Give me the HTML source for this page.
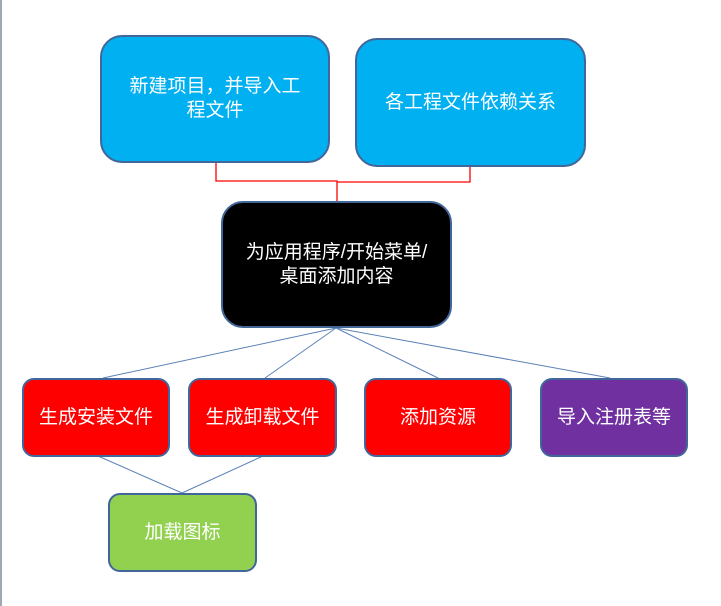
<!DOCTYPE html>
<html><head><meta charset="utf-8"><style>
body{margin:0;width:721px;height:606px;background:#fff;position:relative;overflow:hidden;font-family:"Liberation Sans","Noto Sans CJK SC",sans-serif}
.b{position:absolute;box-sizing:border-box;border:2px solid #41669a;color:#fff;display:flex;align-items:center;justify-content:center;text-align:center;font-size:19px;line-height:24px}
</style></head><body>
<div style="position:absolute;left:0;top:0;width:2px;height:606px;background:#a0a8b4"></div>
<svg width="721" height="606" style="position:absolute;left:0;top:0">
<polyline points="216,162 216,181 337,181 337,201" fill="none" stroke="#f00" stroke-width="1.3"/>
<polyline points="337,182 470,182 470,166" fill="none" stroke="#f00" stroke-width="1.3"/>
<g stroke="#5b82b8" stroke-width="1">
<line x1="336" y1="328" x2="103" y2="378"/>
<line x1="336" y1="328" x2="265" y2="378"/>
<line x1="336" y1="328" x2="438" y2="378"/>
<line x1="336" y1="328" x2="610" y2="378"/>
<line x1="98" y1="456" x2="182" y2="493"/>
<line x1="263" y1="456" x2="182" y2="493"/>
</g></svg>
<div class="b" style="left:100px;top:35px;width:230px;height:128px;border-radius:22px;background:#00b0f0;padding:0 26px">新建项目，并导入工程文件</div>
<div class="b" style="left:355px;top:38px;width:231px;height:129px;border-radius:22px;background:#00b0f0">各工程文件依赖关系</div>
<div class="b" style="left:221px;top:201px;width:231px;height:127px;border-radius:22px;background:#000;padding:0 14px">为应用程序/开始菜单/桌面添加内容</div>
<div class="b" style="left:22px;top:378px;width:148px;height:79px;border-radius:12px;background:#f00">生成安装文件</div>
<div class="b" style="left:188px;top:378px;width:149px;height:79px;border-radius:12px;background:#f00">生成卸载文件</div>
<div class="b" style="left:364px;top:378px;width:148px;height:79px;border-radius:12px;background:#f00">添加资源</div>
<div class="b" style="left:540px;top:378px;width:148px;height:79px;border-radius:12px;background:#7030a0">导入注册表等</div>
<div class="b" style="left:108px;top:493px;width:149px;height:79px;border-radius:12px;background:#92d050">加载图标</div>
</body></html>
